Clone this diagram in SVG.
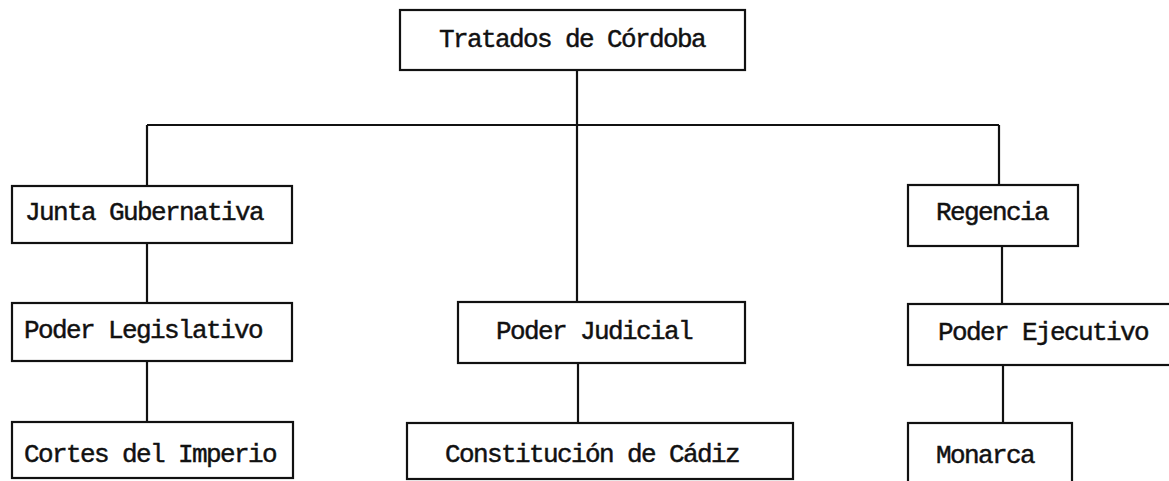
<svg xmlns="http://www.w3.org/2000/svg" width="1169" height="481" viewBox="0 0 1169 481">
<style>
.box{fill:#fff;stroke:#111;stroke-width:2.2}
.ln{stroke:#111;stroke-width:2.2;fill:none}
text{font-family:"Liberation Mono","Courier New",monospace;font-size:26px;letter-spacing:-1.6px;fill:#111;stroke:#111;stroke-width:0.45px}
</style>
<rect width="1169" height="481" fill="#fff"/>
<g id="connectors">
<line class="ln" x1="577" y1="70" x2="577" y2="302"/>
<line class="ln" x1="147" y1="125" x2="999" y2="125"/>
<line class="ln" x1="147" y1="125" x2="147" y2="186"/>
<line class="ln" x1="999" y1="125" x2="999" y2="185"/>
<line class="ln" x1="147" y1="243" x2="147" y2="303"/>
<line class="ln" x1="147" y1="361" x2="147" y2="422"/>
<line class="ln" x1="578" y1="363" x2="578" y2="423"/>
<line class="ln" x1="1002" y1="246" x2="1002" y2="304"/>
<line class="ln" x1="1003" y1="365" x2="1003" y2="423"/>
</g>
<g id="n-tratados"><rect class="box" x="400" y="10" width="345" height="60"/><text x="439" y="47">Tratados de Córdoba</text></g>
<g id="n-junta"><rect class="box" x="12" y="186" width="280" height="57"/><text x="25" y="220">Junta Gubernativa</text></g>
<g id="n-legislativo"><rect class="box" x="12" y="303" width="280" height="58"/><text x="24" y="338">Poder Legislativo</text></g>
<g id="n-cortes"><rect class="box" x="12" y="422" width="281" height="56"/><text x="24" y="462">Cortes del Imperio</text></g>
<g id="n-judicial"><rect class="box" x="458" y="302" width="287" height="61"/><text x="496" y="339">Poder Judicial</text></g>
<g id="n-constitucion"><rect class="box" x="407" y="423" width="386" height="56"/><text x="445" y="462">Constitución de Cádiz</text></g>
<g id="n-regencia"><rect class="box" x="908" y="185" width="170" height="61"/><text x="936" y="220">Regencia</text></g>
<g id="n-ejecutivo"><rect class="box" x="908" y="304" width="270" height="61"/><text x="938" y="340">Poder Ejecutivo</text></g>
<g id="n-monarca"><rect class="box" x="908" y="423" width="164" height="60"/><text x="936" y="463">Monarca</text></g>
</svg>
